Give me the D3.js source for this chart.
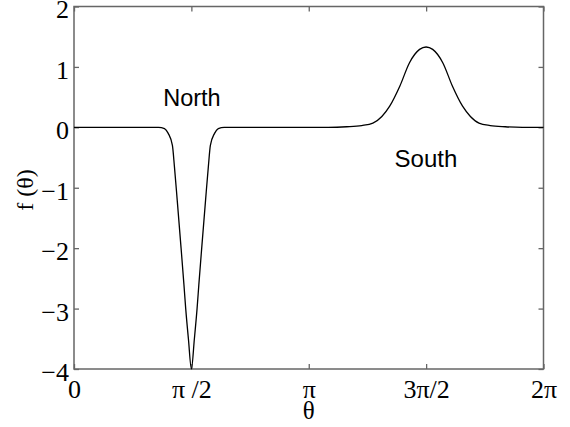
<!DOCTYPE html>
<html>
<head>
<meta charset="utf-8">
<script src="https://cdn.jsdelivr.net/npm/d3@7"></script>
<style>
  body { margin: 0; background: #fff; }
  .tick text { font-family: "Liberation Serif", "Times New Roman", serif; }
</style>
</head>
<body>
<div id="chart"></div>
<script>
// curve samples (theta in radians, f(theta))
const theta = [
  0.000, 0.800, 1.131, 1.211, 1.261, 1.317, 1.344, 1.381, 1.433, 1.471, 1.495, 1.531,
  1.571,
  1.611, 1.647, 1.671, 1.709, 1.761, 1.798, 1.825, 1.881, 1.931, 2.011,
  2.500, 3.000, 3.400, 3.650, 3.850, 4.000, 4.120, 4.225, 4.360, 4.490, 4.625,
  4.712,
  4.800, 4.935, 5.065, 5.200, 5.305, 5.420, 5.570, 5.770, 6.000, 6.283
];
const ftheta = [
  0, 0, 0, -0.02, -0.1, -0.3, -0.65, -1.2, -2.0, -2.6, -3.0, -3.5,
  -4.0,
  -3.5, -3.0, -2.6, -2.0, -1.2, -0.65, -0.3, -0.1, -0.02, 0,
  0, 0, 0, 0.01, 0.03, 0.07, 0.18, 0.35, 0.68, 1.07, 1.29,
  1.33,
  1.29, 1.07, 0.68, 0.35, 0.18, 0.07, 0.03, 0.01, 0, 0
];

const xTickValues = [0, Math.PI / 2, Math.PI, 3 * Math.PI / 2, 2 * Math.PI];
const xTickLabels = ["0", "\u03c0 /2", "\u03c0", "3\u03c0/2", "2\u03c0"];
const yTickValues = [-4, -3, -2, -1, 0, 1, 2];
const annotations = ["North", "South"];

const width = 570, height = 427;
const margin = {top: 6.5, right: 26.5, bottom: 58, left: 74};
const iw = width - margin.left - margin.right;
const ih = height - margin.top - margin.bottom;

const svg = d3.select("#chart").append("svg")
    .attr("width", width)
    .attr("height", height);

const g = svg.append("g")
    .attr("transform", `translate(${margin.left},${margin.top})`);

const x = d3.scaleLinear().domain([0, 2 * Math.PI]).range([0, iw]);
const y = d3.scaleLinear().domain([-4, 2]).range([ih, 0]);

const axisColor = "#666";

// left axis with labels
const yAxis = g.append("g")
    .call(d3.axisLeft(y).tickValues(yTickValues).tickFormat(d3.format("d"))
        .tickSizeInner(-5).tickSizeOuter(0).tickPadding(5));
yAxis.selectAll("text").attr("font-size", 26).attr("fill", "#000").attr("dy", "0.44em");

// bottom axis with labels
const xAxis = g.append("g")
    .attr("transform", `translate(0,${ih})`)
    .call(d3.axisBottom(x).tickValues(xTickValues).tickFormat((d, i) => xTickLabels[i])
        .tickSizeInner(-5).tickSizeOuter(0).tickPadding(11));
xAxis.selectAll("text").attr("font-size", 26).attr("fill", "#000");

// right and top ticks only
const yRight = g.append("g")
    .attr("transform", `translate(${iw},0)`)
    .call(d3.axisRight(y).tickValues(yTickValues).tickSizeInner(-5).tickSizeOuter(0).tickFormat(""));
const xTop = g.append("g")
    .call(d3.axisTop(x).tickValues(xTickValues).tickSizeInner(-5).tickSizeOuter(0).tickFormat(""));

[yAxis, xAxis, yRight, xTop].forEach(a => {
    a.select(".domain").remove();
    a.selectAll("line").attr("stroke", axisColor).attr("stroke-width", 1.3);
});

// box
g.append("rect")
    .attr("x", 0).attr("y", 0)
    .attr("width", iw).attr("height", ih)
    .attr("fill", "none")
    .attr("stroke", axisColor)
    .attr("stroke-width", 1.5);

// curve
const pts = theta.map((t, i) => [t, ftheta[i]]);
const line = d3.line()
    .x(d => x(d[0]))
    .y(d => y(d[1]))
    .curve(d3.curveMonotoneX);

g.append("path")
    .datum(pts)
    .attr("d", line)
    .attr("fill", "none")
    .attr("stroke", "#000")
    .attr("stroke-width", 1.3);

// annotations
g.append("text")
    .attr("x", x(1.194)).attr("y", y(0.36))
    .attr("font-family", "Liberation Sans, Arial, sans-serif")
    .attr("font-size", 23.5)
    .text(annotations[0]);

g.append("text")
    .attr("x", x(4.29)).attr("y", y(-0.65))
    .attr("font-family", "Liberation Sans, Arial, sans-serif")
    .attr("font-size", 24)
    .text(annotations[1]);

// axis titles
svg.append("text")
    .attr("x", margin.left + x(Math.PI)).attr("y", 419)
    .attr("text-anchor", "middle")
    .attr("font-family", "Liberation Serif, Times New Roman, serif")
    .attr("font-size", 25)
    .text("\u03b8");

svg.append("text")
    .attr("transform", "translate(33,190) rotate(-90)")
    .attr("text-anchor", "middle")
    .attr("font-family", "Liberation Serif, Times New Roman, serif")
    .attr("font-size", 24)
    .text("f (\u03b8)");
</script>
</body>
</html>
